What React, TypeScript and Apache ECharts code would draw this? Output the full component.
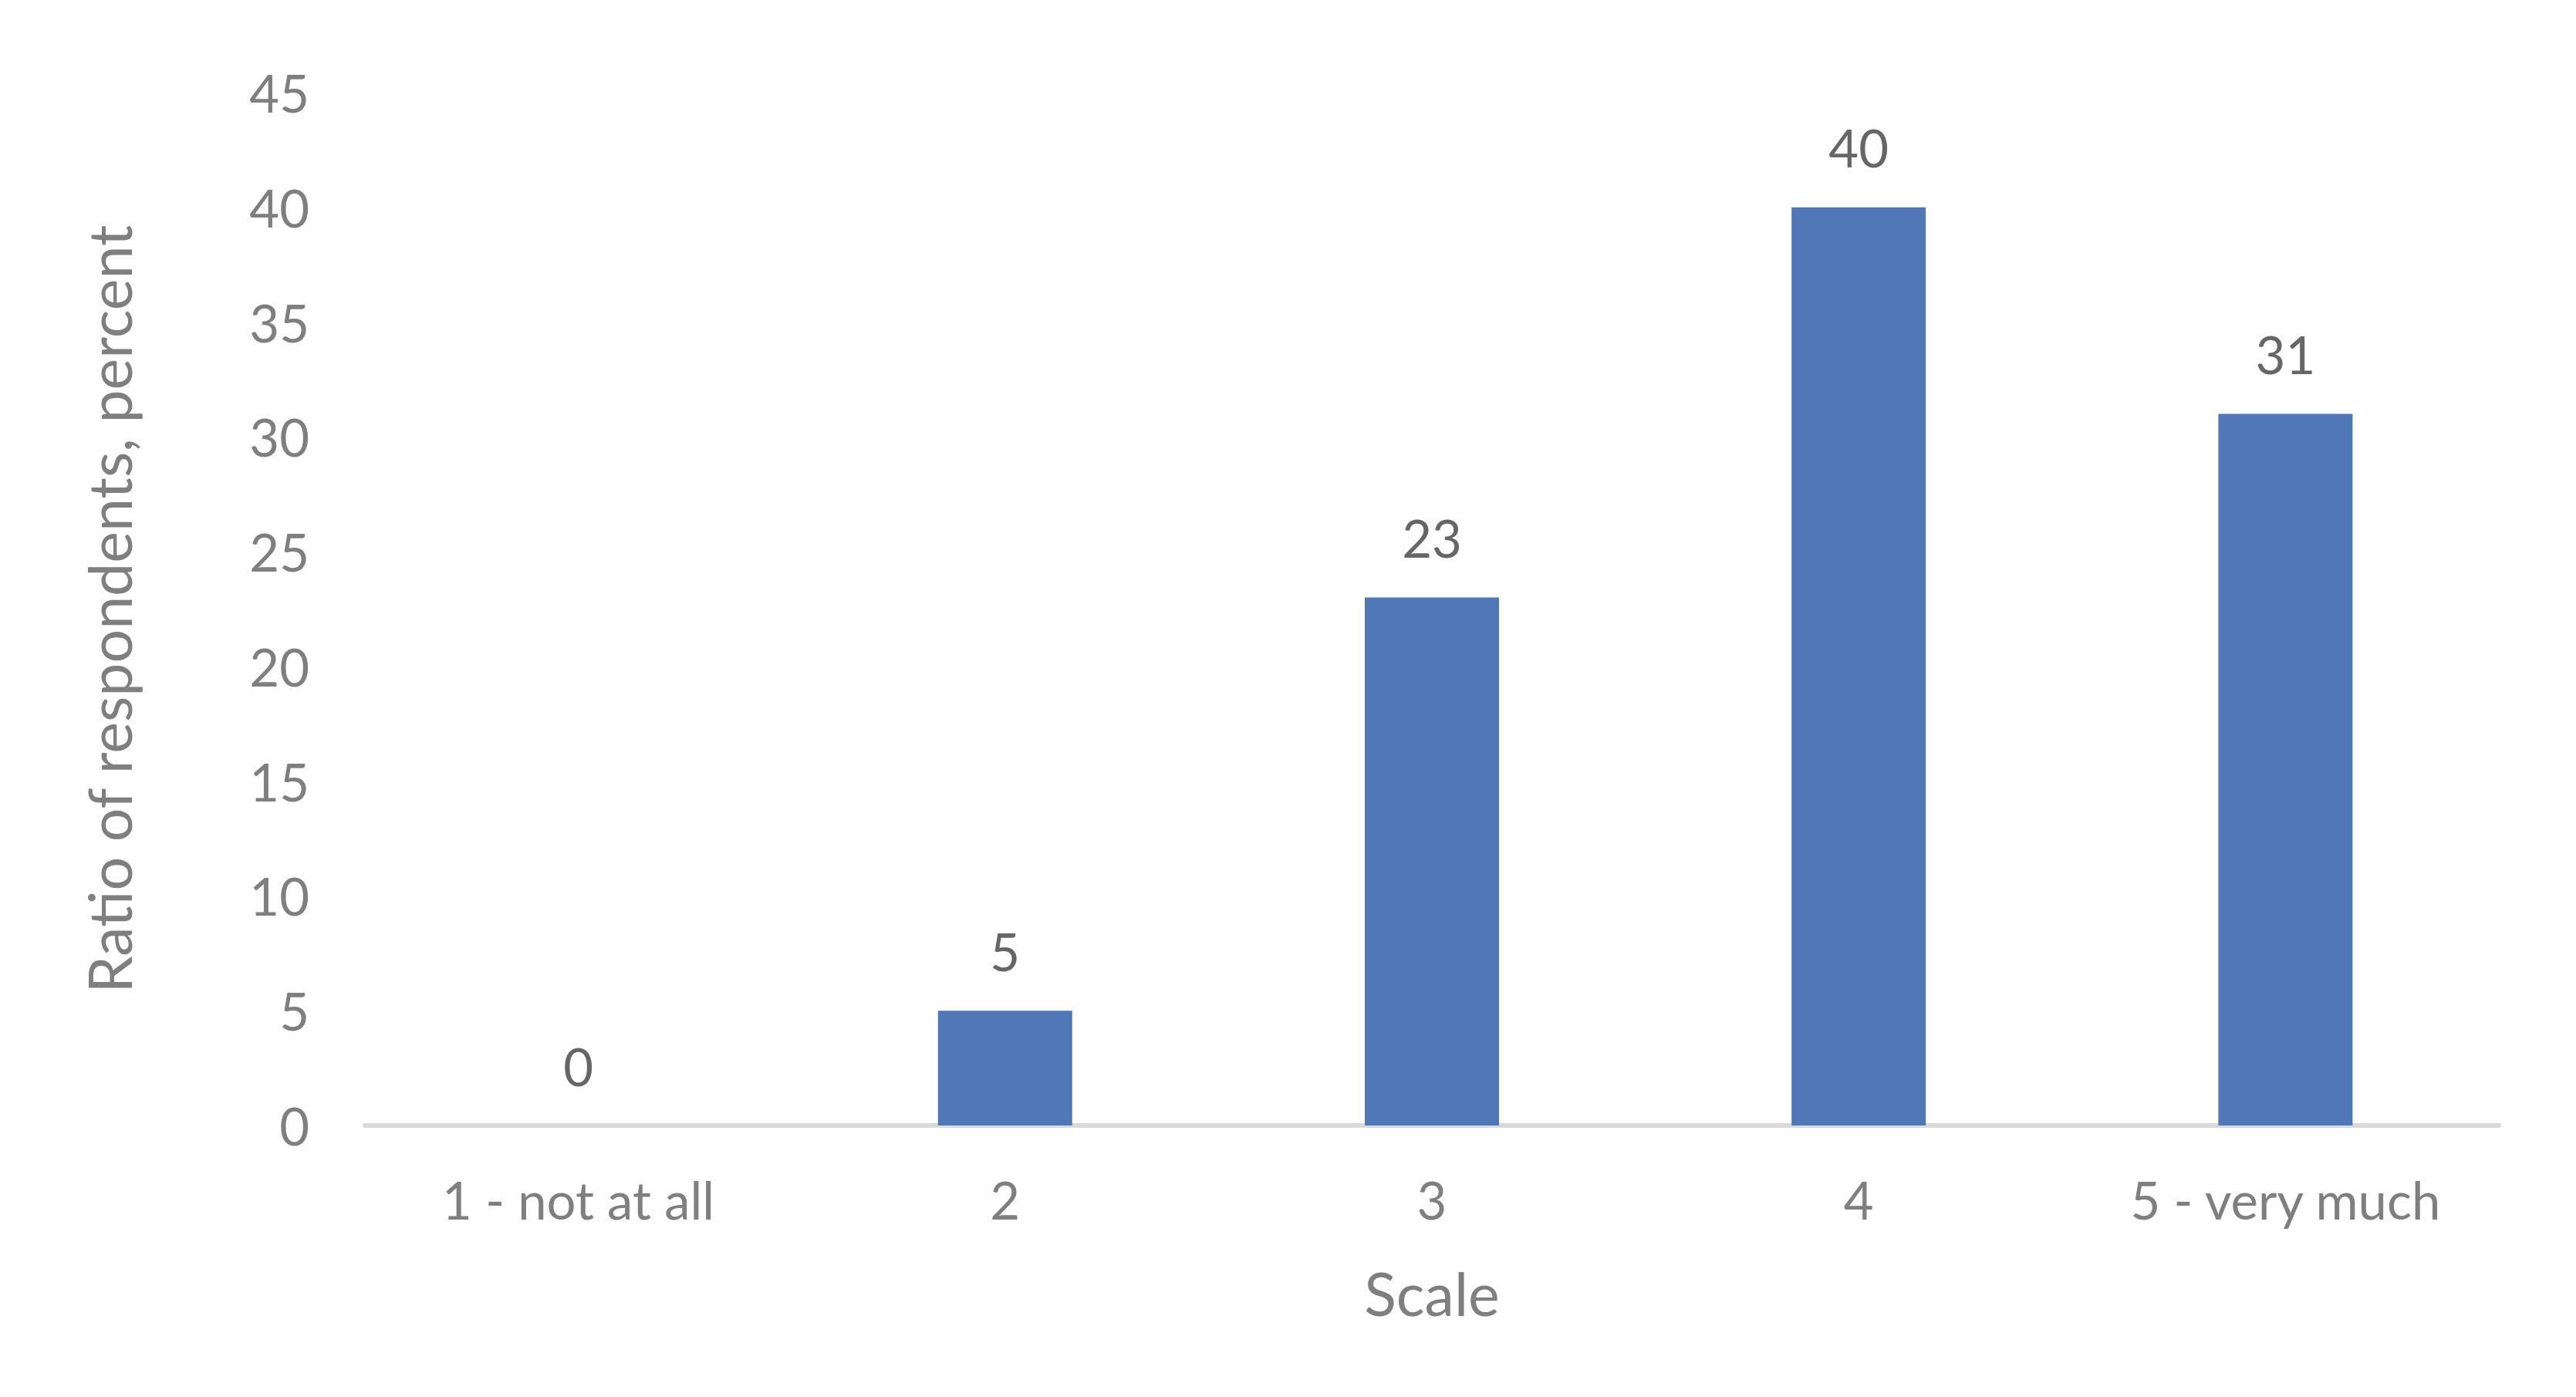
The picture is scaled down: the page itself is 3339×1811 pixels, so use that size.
import React, { useEffect, useRef } from "react";
import * as echarts from "echarts";

const categories = ["1 - not at all", "2", "3", "4", "5 - very much"];
const values = [0, 5, 23, 40, 31];
const yTicks = { min: 0, max: 45, interval: 5 };
const xTitle = "Scale";
const yTitle = "Ratio of respondents, percent";

export default function App() {
  const ref = useRef<HTMLDivElement>(null);
  useEffect(() => {
    if (!ref.current) return;
    const chart = echarts.init(ref.current, null, { renderer: "svg" });
    const font = "Lato";
    chart.setOption({
      animation: false,
      backgroundColor: "#ffffff",
      grid: { left: 473, right: 100, top: 120, bottom: 352, containLabel: false },
      xAxis: {
        type: "category",
        data: categories,
        axisLine: { show: true, lineStyle: { color: "#D9D9D9", width: 6 } },
        axisTick: { show: false },
        axisLabel: { color: "#7F7F7F", fontSize: 67, fontFamily: font, margin: 62 },
        name: xTitle,
        nameLocation: "middle",
        nameGap: 178,
        nameTextStyle: { color: "#7F7F7F", fontSize: 77, fontFamily: font },
      },
      yAxis: {
        type: "value",
        min: yTicks.min,
        max: yTicks.max,
        interval: yTicks.interval,
        axisLine: { show: false },
        axisTick: { show: false },
        splitLine: { show: false },
        axisLabel: { color: "#7F7F7F", fontSize: 67, fontFamily: font, margin: 72 },
        name: yTitle,
        nameLocation: "middle",
        nameGap: 294,
        nameTextStyle: { color: "#7F7F7F", fontSize: 77, fontFamily: font },
      },
      series: [
        {
          type: "bar",
          data: values,
          barWidth: 174,
          itemStyle: { color: "#5078B7" },
          label: {
            show: true,
            position: "top",
            distance: 44,
            color: "#666666",
            fontSize: 67,
            fontFamily: font,
          },
        },
      ],
    });
    return () => chart.dispose();
  }, []);
  return (
    <div
      ref={ref}
      style={{ position: "absolute", left: 0, top: 0, width: 3339, height: 1811 }}
    />
  );
}
